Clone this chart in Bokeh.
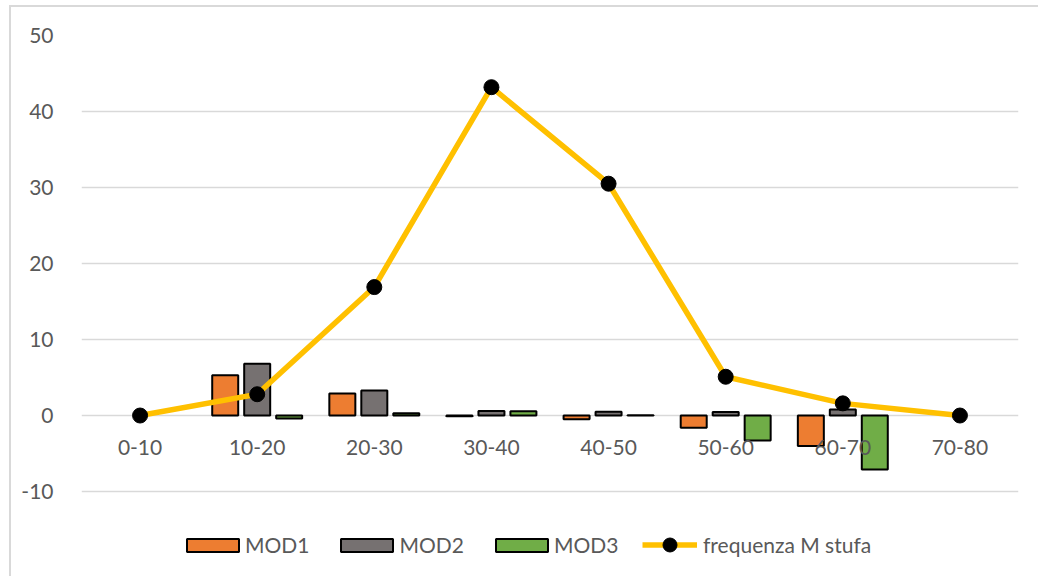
from bokeh.plotting import figure
from bokeh.models import (ColumnDataSource, FactorRange, Range1d, FixedTicker,
                          Legend, LegendItem)
from bokeh.transform import dodge
from bokeh.core.properties import value
from bokeh.embed import file_html
from bokeh.resources import INLINE

# Class intervals and series
categories = ["0-10", "10-20", "20-30", "30-40", "40-50", "50-60", "60-70", "70-80"]
mod1 = [0, 5.3, 2.9, -0.1, -0.5, -1.6, -4.0, 0]
mod2 = [0, 6.8, 3.3, 0.6, 0.5, 0.45, 0.8, 0]
mod3 = [0, -0.4, 0.3, 0.55, 0.05, -3.3, -7.1, 0]
frequenza = [0, 2.8, 16.9, 43.2, 30.5, 5.1, 1.6, 0]
y_ticks = [-10, 0, 10, 20, 30, 40, 50]

FONT = "Lato"
TEXT_COLOR = "#595959"
GRID_COLOR = "#D9D9D9"
COLORS = {"MOD1": "#ED7D31", "MOD2": "#767171", "MOD3": "#70AD47"}
LINE_COLOR = "#FFC000"

# The frame runs down to the bottom edge so the legend can sit inside it,
# below the lowest gridline.
p = figure(
    x_range=FactorRange(factors=categories),
    y_range=Range1d(-21.18, 50),
    width=1029, height=571,
    output_backend="svg", toolbar_location=None,
    min_border_left=70, min_border_right=22,
    min_border_top=28, min_border_bottom=2,
    styles={"margin-left": "9px", "margin-top": "5px",
            "border-left": f"2px solid {GRID_COLOR}",
            "border-top": f"2px solid {GRID_COLOR}"},
)
p.outline_line_color = None
p.xgrid.grid_line_color = None
p.ygrid.grid_line_color = GRID_COLOR
p.ygrid.grid_line_width = 1.5
p.xaxis.visible = False

yax = p.yaxis[0]
yax.ticker = FixedTicker(ticks=y_ticks)
yax.major_label_overrides = {t: str(t) for t in y_ticks}
yax.axis_line_color = None
yax.major_tick_line_color = None
yax.minor_tick_line_color = None
yax.major_label_standoff = 22
yax.major_label_text_font = FONT
yax.major_label_text_font_size = "21px"
yax.major_label_text_color = TEXT_COLOR

# Bars: one source per series, skipping empty classes
bar_renderers = {}
offsets = {"MOD1": -0.273, "MOD2": 0.0, "MOD3": 0.273}
for name, vals in (("MOD1", mod1), ("MOD2", mod2), ("MOD3", mod3)):
    cats = [c for c, v in zip(categories, vals) if v != 0]
    tops = [v for v in vals if v != 0]
    src = ColumnDataSource(dict(cat=cats, top=tops))
    r = p.vbar(x=dodge("cat", offsets[name], range=p.x_range), top="top", bottom=0,
               width=0.222, source=src, fill_color=COLORS[name],
               line_color="black", line_width=2)
    bar_renderers[name] = r

# Category labels next to the zero line
lab_src = ColumnDataSource(dict(cat=categories, y=[0] * len(categories)))
p.text(x="cat", y="y", text="cat", source=lab_src, y_offset=32,
       text_align="center", text_baseline="middle",
       text_font=value(FONT), text_font_size="21px", text_color=TEXT_COLOR)

# Frequency line with markers
fsrc = ColumnDataSource(dict(cat=categories, f=frequenza))
line_r = p.line(x="cat", y="f", source=fsrc, line_color=LINE_COLOR, line_width=5.5)
dot_r = p.scatter(x="cat", y="f", source=fsrc, size=15, fill_color="black",
                  line_color="black")

common = dict(orientation="horizontal", padding=0, margin=0,
              border_line_alpha=0, background_fill_alpha=0,
              label_text_font=FONT, label_text_font_size="21px",
              label_text_color=TEXT_COLOR)

# Area swatches are inset by 10% on each side, so the glyph box is enlarged
bar_legend = Legend(
    items=[LegendItem(label=n, renderers=[bar_renderers[n]]) for n in ("MOD1", "MOD2", "MOD3")],
    location=(99, 19), glyph_width=65, glyph_height=16, spacing=25,
    label_standoff=0, **common)
line_legend = Legend(
    items=[LegendItem(label="frequenza M stufa", renderers=[line_r, dot_r])],
    location=(561, 14), glyph_width=55, glyph_height=35, label_standoff=6, **common)
p.add_layout(bar_legend, "center")
p.add_layout(line_legend, "center")

html = file_html(p, INLINE)
with open("out.html", "w") as f:
    f.write(html)
